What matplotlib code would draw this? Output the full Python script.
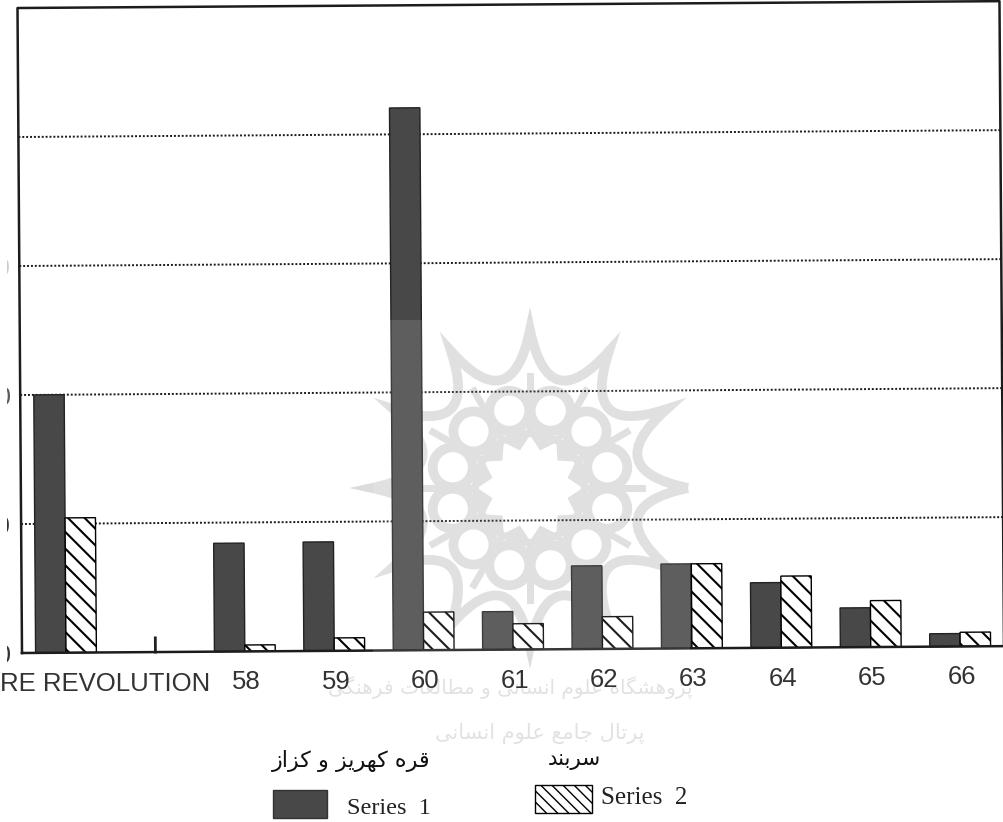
import numpy as np
import matplotlib
matplotlib.use("Agg")
import matplotlib.pyplot as plt
from matplotlib.patches import Rectangle, Circle, PathPatch, Polygon
from matplotlib.path import Path
from matplotlib.transforms import Affine2D, Bbox

categories = ["BEFORE REVOLUTION", "58", "59", "60", "61", "62", "63", "64", "65", "66"]
# second slot in the scan holds a blank group, only a thin stub is printed there
groups = [0, 2, 3, 4, 5, 6, 7, 8, 9, 10]
series1 = [40.0, 16.8, 16.9, 84.1, 5.9, 12.9, 13.1, 10.1, 6.1, 2.0]
series2 = [20.9, 1.0, 2.0, 5.9, 4.0, 5.0, 13.1, 11.1, 7.2, 2.2]
stub_group = 1
stub_value = 2.2
grid_ticks = [20, 40, 60, 80]
y_labels = [0, 20, 40, 60]
y_label_alpha = [1.0, 1.0, 0.8, 0.25]

W, H = 1004, 822
DARK = "#484848"

# letter -> isolated, final, initial, medial (matplotlib does no arabic shaping)
FORMS = {
    "ا": "\uFE8D\uFE8E", "د": "\uFEA9\uFEAA", "ر": "\uFEAD\uFEAE", "ز": "\uFEAF\uFEB0",
    "ژ": "\uFB8A\uFB8B", "و": "\uFEED\uFEEE",
    "ب": "\uFE8F\uFE90\uFE91\uFE92", "پ": "\uFB56\uFB57\uFB58\uFB59",
    "ت": "\uFE95\uFE96\uFE97\uFE98", "ج": "\uFE9D\uFE9E\uFE9F\uFEA0",
    "س": "\uFEB1\uFEB2\uFEB3\uFEB4", "ش": "\uFEB5\uFEB6\uFEB7\uFEB8",
    "ط": "\uFEC1\uFEC2\uFEC3\uFEC4", "ع": "\uFEC9\uFECA\uFECB\uFECC",
    "ف": "\uFED1\uFED2\uFED3\uFED4", "ق": "\uFED5\uFED6\uFED7\uFED8",
    "ک": "\uFB8E\uFB8F\uFB90\uFB91", "گ": "\uFB92\uFB93\uFB94\uFB95",
    "ل": "\uFEDD\uFEDE\uFEDF\uFEE0", "م": "\uFEE1\uFEE2\uFEE3\uFEE4",
    "ن": "\uFEE5\uFEE6\uFEE7\uFEE8", "ه": "\uFEE9\uFEEA\uFEEB\uFEEC",
    "ی": "\uFBFC\uFBFD\uFBFE\uFBFF",
}


def shape(text):
    out = []
    for i, ch in enumerate(text):
        if ch not in FORMS:
            out.append(ch)
            continue
        prev = text[i - 1] if i > 0 else " "
        nxt = text[i + 1] if i < len(text) - 1 else " "
        joins_prev = prev in FORMS and len(FORMS[prev]) == 4
        joins_next = nxt in FORMS and len(FORMS[ch]) == 4
        idx = {(0, 0): 0, (1, 0): 1, (0, 1): 2, (1, 1): 3}[(int(joins_prev), int(joins_next))]
        out.append(FORMS[ch][idx])
    return "".join(reversed(out))


fig = plt.figure(figsize=(W / 100, H / 100), dpi=100)

# pixel layer under the chart, for the watermark and the legend
px = fig.add_axes([0, 0, 1, 1], zorder=1)
px.set_xlim(0, W)
px.set_ylim(H, 0)
px.axis("off")

# watermark rosette
WM = "#dcdcdc"
cx, cy = 530, 488
verts, codes = [], []
for k in range(12):
    a0, a1 = np.radians(30 * k), np.radians(30 * (k + 1))
    am = (a0 + a1) / 2
    if k == 0:
        verts.append((cx + 158 * np.cos(a0), cy - 158 * np.sin(a0)))
        codes.append(Path.MOVETO)
    verts.append((cx + 71 * np.cos(am), cy - 71 * np.sin(am)))
    verts.append((cx + 158 * np.cos(a1), cy - 158 * np.sin(a1)))
    codes += [Path.CURVE3, Path.CURVE3]
px.add_patch(PathPatch(Path(verts, codes), fc="none", ec=WM, lw=7))
for k in range(12):
    a = np.radians(15 + 30 * k)
    px.add_patch(Circle((cx + 80 * np.cos(a), cy - 80 * np.sin(a)), 20, fc="none", ec=WM, lw=7))
    b = np.radians(30 * k)
    px.plot([cx + 55 * np.cos(b), cx + 112 * np.cos(b)], [cy - 55 * np.sin(b), cy - 112 * np.sin(b)],
            color=WM, lw=5)
px.add_patch(Circle((cx, cy), 58, fc=WM, ec="none"))
ang = np.radians(np.arange(0, 360, 15))
rad = np.where(np.arange(24) % 2 == 0, 49, 36)
px.add_patch(Polygon(np.c_[cx + rad * np.cos(ang), cy - rad * np.sin(ang)], fc="white", ec="white",
                     lw=3, joinstyle="round"))

# faint watermark captions
px.text(510, 688, shape("پژوهشگاه علوم انسانی و مطالعات فرهنگی"), fontsize=14.5, color="#e2e2e2",
        ha="center", va="center", family="DejaVu Sans")
px.text(540, 733, shape("پرتال جامع علوم انسانی"), fontsize=15, color="#e2e2e2",
        ha="center", va="center", family="DejaVu Sans")

# legend
px.text(351, 761, shape("قره کهریز و کزاز"), fontsize=16, color="#111111",
        ha="center", va="center", family="DejaVu Sans")
px.text(574, 760, shape("سربند"), fontsize=15.5, color="#111111",
        ha="center", va="center", family="DejaVu Sans")
px.add_patch(Rectangle((273, 790), 54, 28, fc=DARK, ec="#333333", lw=1))
px.add_patch(Rectangle((535, 785), 57, 28, fc="white", ec="black", lw=1, hatch="\\\\\\"))
px.text(347, 808, "Series  1", fontsize=17.5, family="Liberation Serif", color="#222222", va="center")
px.text(601, 798, "Series  2", fontsize=18, family="Liberation Serif", color="#222222", va="center")

# chart axes, the whole page sits a little skewed in the scan
ax = fig.add_axes([22 / W, (H - 653) / H, 982 / W, 645 / H], zorder=2)
ax.set_xlim(-0.492, 10.49)
ax.set_ylim(0, 100)
ax.axis("off")
plt.rcParams["hatch.linewidth"] = 1.5

fig.canvas.draw()
pivot = ax.transData.transform((ax.get_xlim()[0], 0))
tr = ax.transData + Affine2D().rotate_deg_around(pivot[0], pivot[1], 0.4)

x0, x1 = ax.get_xlim()
for t in grid_ticks:
    ax.plot([x0, x1], [t, t], color="#1a1a1a", lw=1.4, ls=(0, (1, 1)), transform=tr, clip_on=False, zorder=1)

x = np.array(groups)
ax.bar(x - 0.17, series1, 0.34, color=DARK, edgecolor="#222222", lw=1, transform=tr, clip_on=False, zorder=3)
ax.bar(x + 0.17, series2, 0.34, color="white", edgecolor="black", lw=1, hatch="\\\\",
       transform=tr, clip_on=False, zorder=3)
ax.plot([stub_group, stub_group], [0, stub_value], color="#222222", lw=2, transform=tr, clip_on=False, zorder=3)

ax.plot([x0, x1, x1, x0, x0], [0, 0, 100, 100, 0], color="#1c1c1c", lw=1.8, transform=tr, clip_on=False, zorder=4)

# category labels
for g, lab in zip([0] + groups[1:], categories):
    ax.text(g + (0.04 if g == 0 else 0.015), -4.8, lab, fontsize=18.5, family="Liberation Sans", color="#333333",
            ha="center", va="center", transform=tr, clip_on=False)

# y tick labels survive only as a sliver at the cropped page edge
cut = Bbox.from_extents(7, 0, W, H)
for v, al in zip(y_labels, y_label_alpha):
    t = px.text(11, 653 - v * 6.45 + 3, str(v), fontsize=18, family="Liberation Sans", color="#333333",
                ha="right", va="center", alpha=al)
    t.set_clip_box(cut)
    t.set_clip_on(True)

# the watermark also lightens the print inside its square
fig.add_artist(Rectangle((373 / W, (H - 653) / H), 317 / W, 333 / H, transform=fig.transFigure,
                         fc="white", ec="none", alpha=0.12, zorder=5))

fig.savefig("out.png", dpi=100)
